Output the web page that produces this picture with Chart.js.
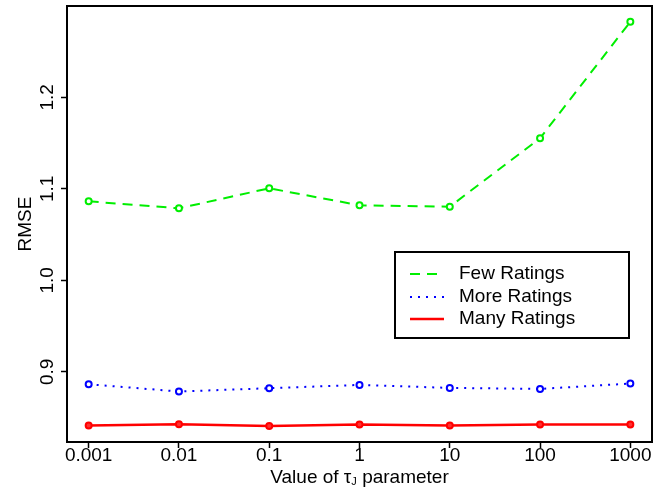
<!DOCTYPE html>
<html>
<head>
<meta charset="utf-8">
<script src="https://cdn.jsdelivr.net/npm/chart.js@4/dist/chart.umd.min.js"></script>
<style>
  body { margin: 0; background: #fff; }
  canvas { display: block; }
</style>
</head>
<body>
<canvas id="myChart" width="661" height="489"></canvas>
<script>
const xLabels = ['0.001', '0.01', '0.1', '1', '10', '100', '1000'];
const yTicks = [0.9, 1.0, 1.1, 1.2];

const fewRatings  = [1.0864, 1.0788, 1.1007, 1.0821, 1.0806, 1.1554, 1.2827];
const moreRatings = [0.8865, 0.8786, 0.8822, 0.8858, 0.8825, 0.8814, 0.8873];
const manyRatings = [0.8413, 0.8428, 0.8409, 0.8424, 0.8413, 0.8424, 0.8424];

const FONT = '"Liberation Sans", Arial, Helvetica, sans-serif';

function pts(vals) {
    return vals.map((v, i) => ({ x: i, y: v }));
}

// box, y tick labels, axis titles and legend, R style
const rStyle = {
    id: 'rStyle',
    afterDraw(chart) {
        const ctx = chart.ctx;
        const a = chart.chartArea;
        const ys = chart.scales.y;
        ctx.save();
        ctx.strokeStyle = '#000';
        ctx.lineWidth = 2;
        ctx.strokeRect(a.left, a.top, a.right - a.left, a.bottom - a.top);

        ctx.fillStyle = '#000';
        ctx.font = '19px ' + FONT;
        yTicks.forEach(t => {
            const py = ys.getPixelForValue(t);
            ctx.save();
            ctx.translate(53, py);
            ctx.rotate(-Math.PI / 2);
            ctx.textAlign = 'center';
            ctx.textBaseline = 'alphabetic';
            ctx.fillText(t.toFixed(1), 0, 0);
            ctx.restore();
        });

        // y title
        ctx.save();
        ctx.translate(31, (a.top + a.bottom) / 2);
        ctx.rotate(-Math.PI / 2);
        ctx.textAlign = 'center';
        ctx.fillText('RMSE', 0, 0);
        ctx.restore();

        // x title with subscript
        const p1 = 'Value of \u03c4', sub = 'J', p2 = ' parameter';
        ctx.font = '19px ' + FONT;
        const w1 = ctx.measureText(p1).width, w3 = ctx.measureText(p2).width;
        ctx.font = '11px ' + FONT;
        const w2 = ctx.measureText(sub).width;
        let x = (a.left + a.right) / 2 - (w1 + w2 + w3) / 2;
        const base = 483;
        ctx.textAlign = 'left';
        ctx.font = '19px ' + FONT;
        ctx.fillText(p1, x, base);
        x += w1;
        ctx.font = '11px ' + FONT;
        ctx.fillText(sub, x, base + 2);
        x += w2;
        ctx.font = '19px ' + FONT;
        ctx.fillText(p2, x, base);

        // legend
        ctx.lineWidth = 2;
        ctx.strokeStyle = '#000';
        ctx.strokeRect(395, 252, 234, 86);
        const rows = [274, 297, 319];
        chart.data.datasets.forEach((ds, i) => {
            ctx.beginPath();
            ctx.strokeStyle = ds.borderColor;
            ctx.lineWidth = ds.borderWidth;
            ctx.setLineDash(ds.borderDash || []);
            ctx.moveTo(410, rows[i]);
            ctx.lineTo(444, rows[i]);
            ctx.stroke();
            ctx.setLineDash([]);
            ctx.fillStyle = '#000';
            ctx.textBaseline = 'middle';
            ctx.font = '19px ' + FONT;
            ctx.fillText(ds.label, 459, rows[i]);
        });
        ctx.restore();
    }
};

new Chart(document.getElementById('myChart'), {
    type: 'line',
    data: {
        datasets: [{
            label: 'Few Ratings',
            data: pts(fewRatings),
            borderColor: '#00ee00',
            borderWidth: 2,
            borderDash: [10, 7],
            pointRadius: 3,
            pointBorderWidth: 2,
            pointBackgroundColor: '#fff',
            pointBorderColor: '#00ee00'
        }, {
            label: 'More Ratings',
            data: pts(moreRatings),
            borderColor: '#0000ff',
            borderWidth: 2,
            borderDash: [2, 6],
            pointRadius: 3,
            pointBorderWidth: 2,
            pointBackgroundColor: '#fff',
            pointBorderColor: '#0000ff'
        }, {
            label: 'Many Ratings',
            data: pts(manyRatings),
            borderColor: '#ff0000',
            borderWidth: 2.5,
            pointRadius: 3,
            pointBorderWidth: 2,
            pointBackgroundColor: '#ff3030',
            pointBorderColor: '#ff0000'
        }]
    },
    options: {
        responsive: false,
        animation: false,
        devicePixelRatio: 1,
        layout: { padding: { left: 0, top: 6, right: 9, bottom: 0 } },
        elements: { line: { tension: 0 } },
        plugins: { legend: { display: false }, tooltip: { enabled: false } },
        scales: {
            x: {
                type: 'linear',
                min: -0.24,
                max: 6.24,
                afterBuildTicks: s => { s.ticks = xLabels.map((_, i) => ({ value: i })); },
                afterFit: s => { s.height = 47; },
                border: { display: false },
                grid: { drawOnChartArea: false, tickLength: 6, tickColor: '#000', tickWidth: 1.5 },
                ticks: {
                    color: '#000',
                    font: { family: FONT, size: 19 },
                    padding: -4,
                    maxRotation: 0,
                    callback: v => xLabels[v]
                }
            },
            y: {
                min: 0.8234,
                max: 1.2999,
                afterBuildTicks: s => { s.ticks = yTicks.map(v => ({ value: v })); },
                afterFit: s => { s.width = 67; },
                border: { display: false },
                grid: { drawOnChartArea: false, tickLength: 6, tickColor: '#000', tickWidth: 1.5 },
                ticks: { display: false }
            }
        }
    },
    plugins: [rStyle]
});
</script>
</body>
</html>
